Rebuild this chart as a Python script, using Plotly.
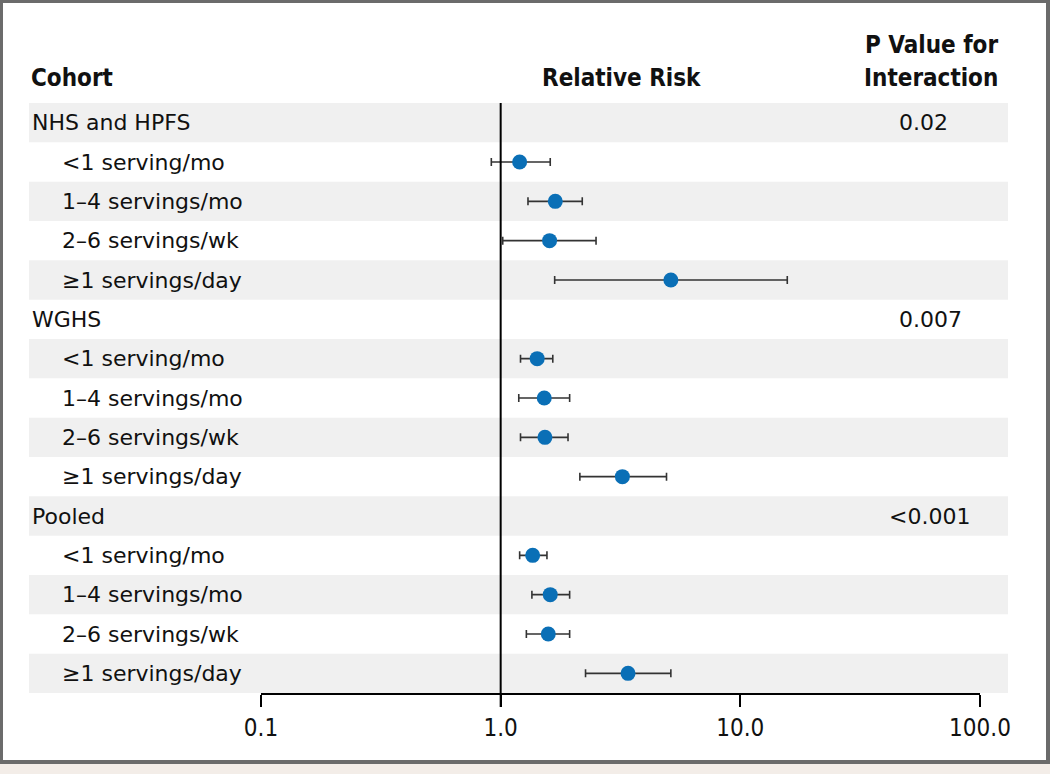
import plotly.graph_objects as go

# rows, top to bottom
row_labels = [
    "NHS and HPFS", "<1 serving/mo", "1\u20134 servings/mo", "2\u20136 servings/wk", "\u22651 servings/day",
    "WGHS", "<1 serving/mo", "1\u20134 servings/mo", "2\u20136 servings/wk", "\u22651 servings/day",
    "Pooled", "<1 serving/mo", "1\u20134 servings/mo", "2\u20136 servings/wk", "\u22651 servings/day",
]
is_header = [True, False, False, False, False] * 3

rr = [None, 1.20, 1.69, 1.60, 5.13,
      None, 1.42, 1.52, 1.53, 3.22,
      None, 1.36, 1.61, 1.58, 3.40]
ci_low = [None, 0.914, 1.30, 1.02, 1.68,
          None, 1.21, 1.19, 1.21, 2.14,
          None, 1.20, 1.35, 1.28, 2.26]
ci_high = [None, 1.61, 2.19, 2.50, 15.7,
           None, 1.65, 1.94, 1.91, 4.92,
           None, 1.56, 1.94, 1.94, 5.13]
p_values = {0: "0.02", 5: "0.007", 10: "<0.001"}

tick_vals = [0.1, 1, 10, 100]
tick_text = ["0.1", "1.0", "10.0", "100.0"]

W, H = 1050, 774
L, R, T, B = 261, 980, 103, 693   # plot area in pixels


def px_x(px):
    return (px - L) / (R - L)


def px_y(py):
    return (B - py) / (B - T)


label_font = "'DejaVu Sans', Verdana, sans-serif"
head_font = "'DejaVu Sans Condensed', 'Liberation Sans Narrow', sans-serif"

idx = [i for i, v in enumerate(rr) if v is not None]
xs = [rr[i] for i in idx]
ys = idx
err_plus = [ci_high[i] - rr[i] for i in idx]
err_minus = [rr[i] - ci_low[i] for i in idx]

fig = go.Figure()
fig.add_trace(go.Scatter(
    x=xs, y=ys, mode="markers",
    marker=dict(size=15, color="#0a6fb6"),
    error_x=dict(type="data", symmetric=False, array=err_plus, arrayminus=err_minus,
                 color="#333333", thickness=1.6, width=4),
    showlegend=False, hoverinfo="skip",
))

shapes = []
# zebra stripes
for i in range(len(row_labels)):
    if i % 2 == 0:
        shapes.append(dict(type="rect", xref="paper", yref="y", layer="below",
                           x0=px_x(29), x1=px_x(1008), y0=i - 0.5, y1=i + 0.5,
                           fillcolor="#f0f0f0", line=dict(width=0)))
# reference line at RR = 1
shapes.append(dict(type="line", xref="x", yref="paper", x0=1, x1=1,
                   y0=px_y(707), y1=1, line=dict(color="black", width=2)))
# frame
frame = "#6b6b6b"
shapes += [
    dict(type="rect", xref="paper", yref="paper", x0=px_x(0), x1=px_x(3), y0=px_y(764), y1=px_y(0),
         fillcolor=frame, line=dict(width=0)),
    dict(type="rect", xref="paper", yref="paper", x0=px_x(0), x1=px_x(W), y0=px_y(3), y1=px_y(0),
         fillcolor=frame, line=dict(width=0)),
    dict(type="rect", xref="paper", yref="paper", x0=px_x(1046), x1=px_x(W), y0=px_y(764), y1=px_y(0),
         fillcolor=frame, line=dict(width=0)),
    dict(type="rect", xref="paper", yref="paper", x0=px_x(0), x1=px_x(W), y0=px_y(764), y1=px_y(760),
         fillcolor=frame, line=dict(width=0)),
    dict(type="rect", xref="paper", yref="paper", x0=px_x(0), x1=px_x(W), y0=px_y(H), y1=px_y(764),
         fillcolor="#f3ede8", line=dict(width=0)),
]

lf = dict(family=label_font, size=22, color="#111111")
annotations = []
for i, lab in enumerate(row_labels):
    annotations.append(dict(text=lab, xref="paper", yref="y", x=px_x(30 if is_header[i] else 60), y=i,
                            xanchor="left", yanchor="middle", showarrow=False, font=lf))
for i, p in p_values.items():
    if p.startswith("<"):
        annotations.append(dict(text=p, xref="paper", yref="y", x=px_x(972), y=i, xanchor="right",
                                yanchor="middle", showarrow=False, font=lf))
    else:
        annotations.append(dict(text=p, xref="paper", yref="y", x=px_x(897), y=i, xanchor="left",
                                yanchor="middle", showarrow=False, font=lf))

hf = dict(family=head_font, size=24, color="#111111")
annotations += [
    dict(text="<b>Cohort</b>", xref="paper", yref="paper", x=px_x(29), y=px_y(78),
         xanchor="left", yanchor="middle", showarrow=False, font=hf),
    dict(text="<b>Relative Risk</b>", xref="paper", yref="paper", x=px_x(621), y=px_y(78),
         xanchor="center", yanchor="middle", showarrow=False, font=hf),
    dict(text="<b>P Value for</b>", xref="paper", yref="paper", x=px_x(1000), y=px_y(45),
         xanchor="right", yanchor="middle", showarrow=False, font=hf),
    dict(text="<b>Interaction</b>", xref="paper", yref="paper", x=px_x(1000), y=px_y(78),
         xanchor="right", yanchor="middle", showarrow=False, font=hf),
]

fig.update_layout(
    width=W, height=H,
    margin=dict(l=L, r=W - R, t=T, b=H - B),
    paper_bgcolor="white", plot_bgcolor="rgba(0,0,0,0)",
    shapes=shapes, annotations=annotations,
    xaxis=dict(type="log", range=[-1, 2], showgrid=False, zeroline=False,
               showline=True, linecolor="black", linewidth=2,
               ticks="outside", ticklen=12, tickwidth=2, tickcolor="black",
               tickvals=tick_vals, ticktext=tick_text,
               tickfont=dict(family=head_font, size=24, color="#111111")),
    yaxis=dict(range=[len(row_labels) - 0.5, -0.5], visible=False),
)

# drop the default 8px body margin so the figure sits at the window origin
fig.write_html("out.html", config={"displayModeBar": False},
               post_script="document.body.style.margin='0';")
